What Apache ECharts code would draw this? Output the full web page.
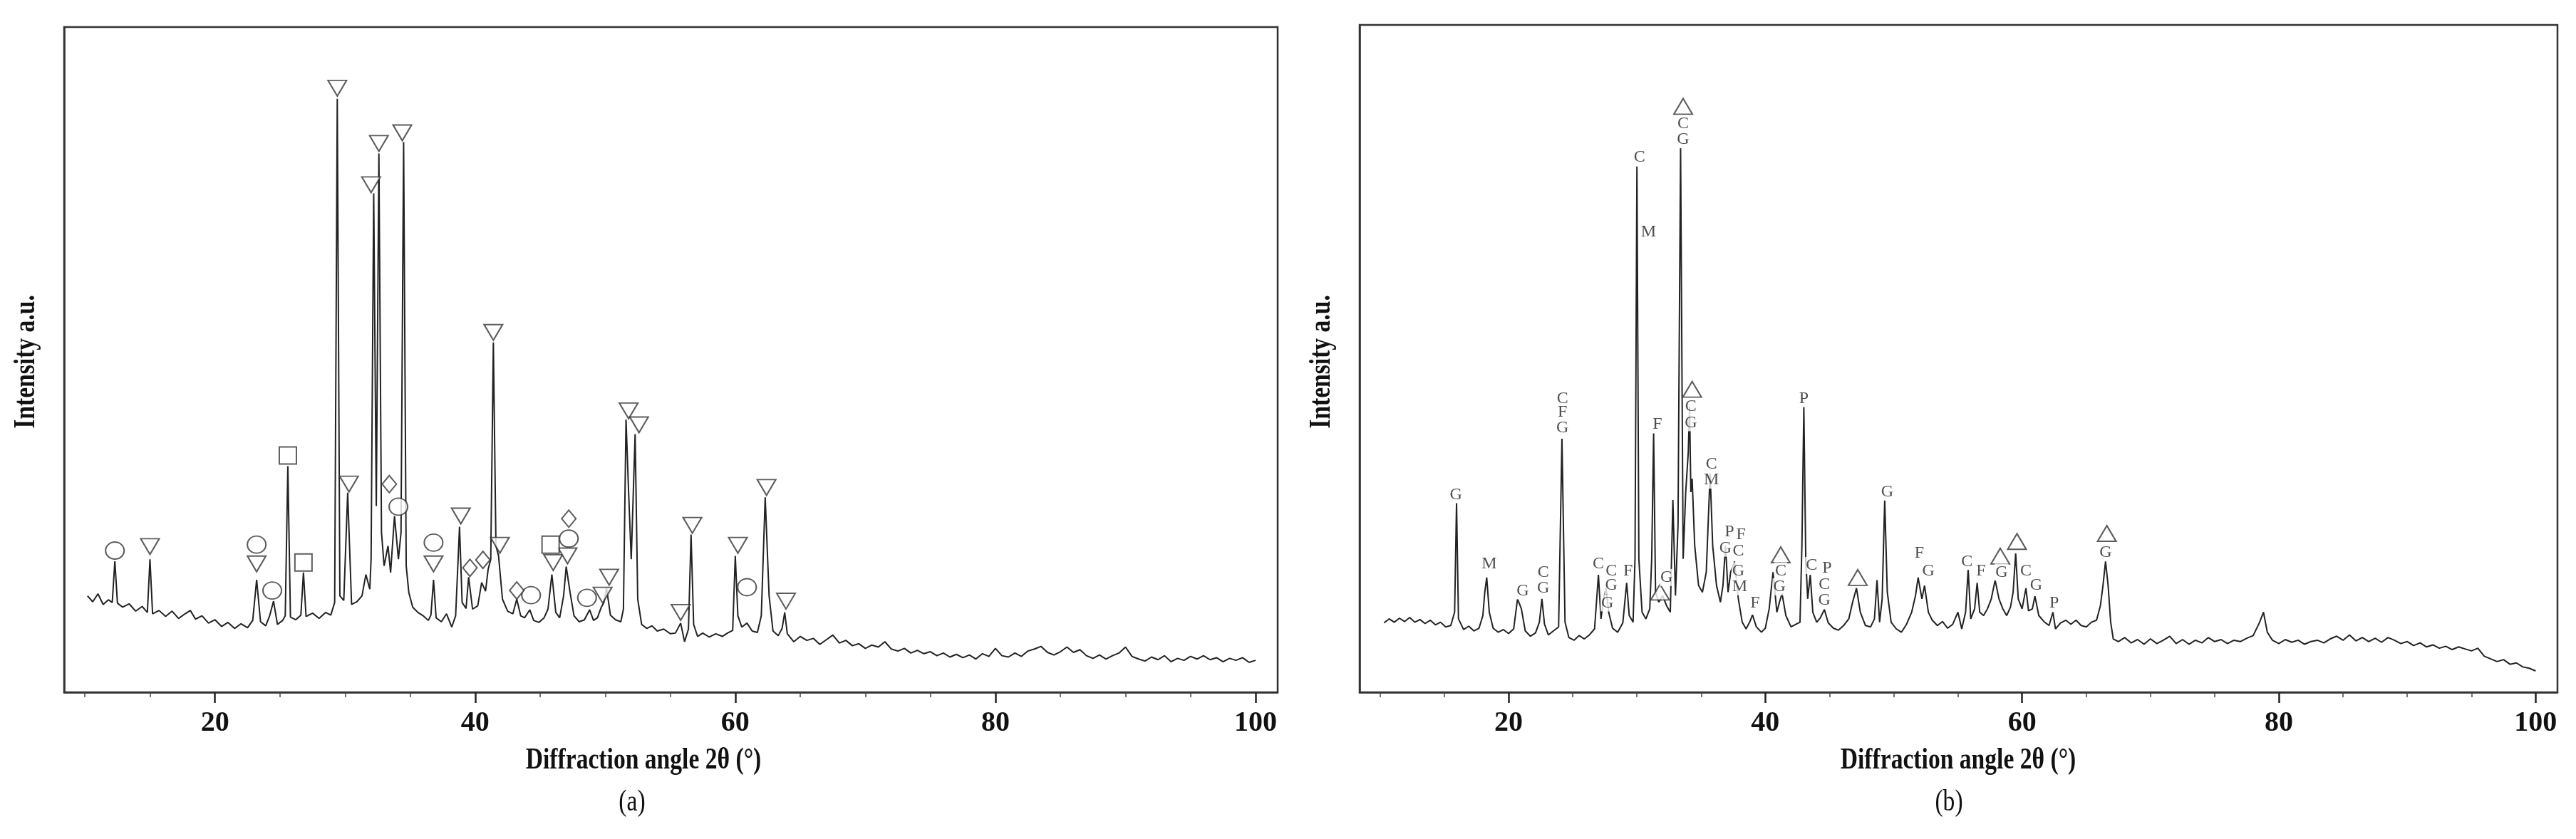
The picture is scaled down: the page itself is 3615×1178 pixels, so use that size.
<!DOCTYPE html>
<html><head><meta charset="utf-8">
<script src="https://cdn.jsdelivr.net/npm/echarts@6/dist/echarts.min.js"></script>
<style>html,body{margin:0;padding:0;background:#fff}#c{width:3615px;height:1178px}</style>
</head><body><div id="c"></div>
<script>
const xTicks=[20,40,60,80,100];
const traceA=[[10.2,14.5],[10.6,13.6],[11.0,14.8],[11.4,13.2],[11.8,13.9],[12.1,13.5],[12.3,19.7],[12.5,13.4],[12.9,12.8],[13.4,13.3],[13.9,12.2],[14.4,12.9],[14.8,12.0],[15.0,20.0],[15.2,11.8],[15.7,12.3],[16.2,11.4],[16.7,12.2],[17.2,11.1],[17.7,11.8],[18.1,12.3],[18.5,11.0],[19.0,11.5],[19.5,10.4],[20.0,10.9],[20.5,9.9],[21.0,10.5],[21.5,9.6],[22.0,10.3],[22.5,9.7],[22.9,10.8],[23.2,16.9],[23.5,10.6],[23.9,10.0],[24.2,11.5],[24.5,13.7],[24.8,10.2],[25.2,10.8],[25.4,11.5],[25.6,34.0],[25.8,11.3],[26.2,10.9],[26.6,11.6],[26.8,18.0],[27.0,11.4],[27.5,11.9],[28.0,11.1],[28.5,12.0],[28.9,11.6],[29.2,13.5],[29.4,89.2],[29.6,14.5],[29.9,13.8],[30.2,30.0],[30.5,13.2],[30.9,13.6],[31.3,14.5],[31.6,17.7],[31.9,15.5],[32.0,20],[32.2,75],[32.4,28],[32.6,81],[32.8,24],[33.0,19],[33.3,22],[33.5,18],[33.8,26.5],[34.1,20],[34.3,24],[34.5,82.7],[34.7,19],[34.9,15],[35.2,12.8],[35.6,12.0],[36.0,11.5],[36.4,10.8],[36.6,11.6],[36.8,16.9],[37.0,11.2],[37.4,10.6],[37.8,11.8],[38.2,9.8],[38.5,11.5],[38.8,24.9],[39.0,13.5],[39.3,12.6],[39.5,17.3],[39.8,12.5],[40.2,13.0],[40.5,16.5],[40.8,15.2],[41.0,18.5],[41.2,20],[41.4,52.6],[41.6,22],[41.8,20.5],[42.1,14.0],[42.5,12.2],[42.9,11.8],[43.2,14.0],[43.5,11.5],[43.8,11.2],[44.2,12.4],[44.5,10.8],[44.9,10.5],[45.3,11.2],[45.6,12.5],[45.9,17.7],[46.2,12.0],[46.5,11.2],[46.8,14.5],[47.0,18.9],[47.3,15.0],[47.6,11.5],[48.0,10.6],[48.4,10.9],[48.8,12.4],[49.1,10.8],[49.4,11.2],[49.7,12.8],[49.9,13.5],[50.1,15.7],[50.4,11.6],[50.8,10.9],[51.2,10.6],[51.4,12.5],[51.6,41],[51.8,30],[52.0,20],[52.3,38.8],[52.5,14],[52.8,10.2],[53.2,9.6],[53.6,10.0],[54.0,9.2],[54.5,9.5],[55.0,8.8],[55.4,8.9],[55.8,10.4],[56.1,7.6],[56.4,9.5],[56.6,23.7],[56.8,10.2],[57.1,8.4],[57.5,8.9],[58.0,8.3],[58.5,8.8],[59.0,8.4],[59.4,8.9],[59.8,9.3],[60.0,20.5],[60.2,11.5],[60.5,9.8],[60.9,10.4],[61.3,9.2],[61.7,9.0],[62.0,11.5],[62.3,29.3],[62.6,14.5],[62.9,9.2],[63.3,8.5],[63.6,9.6],[63.8,12.0],[64.0,8.8],[64.5,7.6],[65.0,8.4],[65.5,7.8],[66.0,8.1],[66.5,7.2],[67.0,7.9],[67.5,8.6],[68.0,7.4],[68.5,7.8],[69.0,7.0],[69.5,7.3],[70.0,6.6],[70.5,7.1],[71.0,6.8],[71.5,7.6],[72.0,6.5],[72.5,6.2],[73.0,6.6],[73.5,5.9],[74.0,6.3],[74.5,5.8],[75.0,6.1],[75.5,5.5],[76.0,5.9],[76.5,5.3],[77.0,5.7],[77.5,5.2],[78.0,5.6],[78.5,5.0],[79.0,5.8],[79.5,5.4],[80.0,6.6],[80.5,5.5],[81.0,5.3],[81.5,5.9],[82.0,5.4],[82.5,6.2],[83.0,6.5],[83.5,6.9],[84.0,6.0],[84.5,5.6],[85.0,6.1],[85.5,6.8],[86.0,6.0],[86.5,6.4],[87.0,5.5],[87.5,5.1],[88.0,5.6],[88.5,5.0],[89.0,5.5],[89.5,5.9],[90.0,6.8],[90.5,5.4],[91.0,5.0],[91.5,4.7],[92.0,5.3],[92.5,4.9],[93.0,5.5],[93.5,4.6],[94.0,5.1],[94.5,4.8],[95.0,5.4],[95.5,5.0],[96.0,5.5],[96.5,4.9],[97.0,5.2],[97.5,4.6],[98.0,5.1],[98.5,4.8],[99.0,5.2],[99.5,4.5],[100.0,4.8]];
const traceB=[[10.3,10.4],[10.7,11.0],[11.1,10.5],[11.5,11.1],[11.9,10.6],[12.3,11.2],[12.7,10.5],[13.1,10.9],[13.5,10.3],[13.9,10.8],[14.3,10.1],[14.7,10.5],[15.1,9.8],[15.5,10.0],[15.8,12],[15.95,28.4],[16.1,11.0],[16.5,9.4],[16.9,9.9],[17.3,9.2],[17.7,9.6],[18.0,11.5],[18.15,15.0],[18.3,17.2],[18.5,12.0],[18.8,9.6],[19.2,9.0],[19.6,9.4],[20.0,8.8],[20.4,9.5],[20.7,14.0],[21.0,12.5],[21.3,9.2],[21.7,8.4],[22.1,8.9],[22.4,10.5],[22.6,14.0],[22.8,10.2],[23.1,8.6],[23.5,9.2],[23.9,9.8],[24.16,38],[24.4,10.5],[24.7,8.2],[25.1,7.8],[25.5,8.5],[25.9,8.0],[26.3,8.6],[26.7,9.5],[27.0,17.6],[27.2,11.0],[27.4,14],[27.6,15.6],[27.8,12],[28.1,9.6],[28.5,9.0],[28.9,10.4],[29.2,16.4],[29.4,11.5],[29.7,10.5],[29.85,20],[30.0,78.8],[30.15,20],[30.4,12.0],[30.7,11.0],[31.0,12.5],[31.15,20],[31.3,38.8],[31.45,15],[31.7,13.5],[32.0,14.5],[32.3,13.0],[32.6,12.0],[32.8,28.8],[33.0,14.5],[33.2,25],[33.4,81.6],[33.6,20],[33.8,30],[34.0,36],[34.1,42.8],[34.2,30],[34.3,32],[34.5,22],[34.8,16],[35.1,15],[35.4,18],[35.7,32.8],[35.9,22],[36.2,16],[36.5,13.5],[36.7,16],[36.9,22],[37.1,15],[37.3,18],[37.6,19.6],[37.9,14],[38.2,10.5],[38.5,9.5],[38.8,10.6],[39.0,11.6],[39.3,9.8],[39.7,9.0],[40.0,9.6],[40.3,12.5],[40.6,18.0],[40.9,12.0],[41.1,13.5],[41.3,14.8],[41.6,11.5],[42.0,9.8],[42.4,10.2],[42.7,10.5],[42.85,22],[43.0,42.8],[43.15,20],[43.3,14],[43.5,17.6],[43.7,12.0],[44.0,10.5],[44.3,11.2],[44.6,12.4],[44.9,10.4],[45.3,9.6],[45.7,9.3],[46.1,10.0],[46.5,11.0],[46.8,13.5],[47.1,15.6],[47.4,12.0],[47.8,10.0],[48.2,9.8],[48.5,11.0],[48.7,16.8],[48.9,10.5],[49.1,14.0],[49.3,28.8],[49.5,15.0],[49.8,10.5],[50.2,9.5],[50.6,9.0],[51.0,10.2],[51.4,12.0],[51.7,14.5],[51.9,17.2],[52.2,14.0],[52.4,16.0],[52.7,12.0],[53.0,10.8],[53.4,10.0],[53.8,10.6],[54.2,9.6],[54.6,10.2],[55.0,12.0],[55.3,9.5],[55.6,12.0],[55.8,18.4],[56.0,11.0],[56.3,12.5],[56.5,16.4],[56.7,12.0],[57.0,11.5],[57.3,12.5],[57.6,14.0],[57.9,16.8],[58.2,14.0],[58.5,12.5],[58.8,11.5],[59.1,12.8],[59.3,15],[59.5,20.8],[59.7,14.0],[60.0,12.5],[60.3,15.6],[60.5,12.2],[60.8,12.5],[61.0,14.4],[61.3,11.5],[61.7,10.6],[62.1,10.0],[62.4,12.0],[62.6,9.5],[63.0,10.4],[63.4,10.8],[63.8,10.2],[64.2,10.8],[64.6,10.0],[65.0,9.8],[65.4,10.5],[65.8,10.8],[66.1,13.0],[66.3,16.0],[66.5,19.6],[66.7,16],[66.9,10.5],[67.1,8.0],[67.5,7.6],[68.0,8.2],[68.5,7.4],[69.0,7.9],[69.5,7.2],[70.0,8.0],[70.5,7.3],[71.0,7.8],[71.5,8.4],[72.0,7.3],[72.5,7.9],[73.0,7.2],[73.5,7.8],[74.0,7.4],[74.5,8.2],[75.0,7.6],[75.5,7.9],[76.0,7.3],[76.5,7.8],[77.0,7.6],[77.5,8.1],[78.0,8.5],[78.5,10.5],[78.8,12.0],[79.1,9.0],[79.5,7.8],[80.0,7.3],[80.5,7.9],[81.0,7.5],[81.5,7.8],[82.0,7.2],[82.5,7.6],[83.0,7.8],[83.5,7.4],[84.0,8.0],[84.5,8.4],[85.0,7.8],[85.5,8.6],[86.0,7.7],[86.5,8.2],[87.0,7.6],[87.5,8.1],[88.0,7.5],[88.5,8.2],[89.0,7.8],[89.5,7.3],[90.0,7.6],[90.5,7.0],[91.0,7.4],[91.5,6.8],[92.0,7.1],[92.5,6.6],[93.0,6.9],[93.5,6.4],[94.0,6.8],[94.5,6.5],[95.0,6.2],[95.5,6.6],[96.0,5.4],[96.5,5.0],[97.0,4.6],[97.5,4.9],[98.0,4.2],[98.5,4.4],[99.0,3.8],[99.5,3.6],[100.0,3.2]];
// panel (a) phase markers
const aDownTri=[[15.0,21.9],[23.2,19.3],[29.4,90.8],[30.3,31.3],[32.0,76.3],[32.6,82.5],[34.4,84.1],[36.8,19.3],[38.9,26.5],[41.4,54.1],[41.9,22.1],[46.0,19.5],[47.1,20.5],[49.8,14.6],[50.3,17.3],[51.8,42.3],[52.6,40.2],[55.8,12.0],[56.7,25.1],[60.2,22.1],[62.4,30.8],[63.9,13.7]];
const aCircle=[[12.3,21.3],[23.2,22.2],[24.4,15.3],[34.1,27.9],[36.8,22.5],[44.3,14.6],[47.2,23.1],[48.6,14.2],[60.9,15.8]];
const aSquare=[[25.6,35.6],[26.8,19.5],[45.8,22.2]];
const aDiamond=[[33.4,31.3],[39.6,18.7],[40.6,19.9],[43.2,15.3],[47.2,26.1]];
// panel (b) phase markers
const bUpTri=[[31.8,15.0],[33.6,87.8],[34.3,45.4],[41.2,20.6],[47.2,17.2],[58.3,20.4],[59.6,22.6],[66.6,23.8]];
const bLetters=[[15.9,29.6,'G'],[18.5,19.2,'M'],[21.1,15.2,'G'],[22.7,18,'C'],[22.7,15.6,'G'],[24.2,44,'C'],[24.2,42,'F'],[24.2,39.6,'G'],[27.0,19.2,'C'],[28.0,18.2,'C'],[28.0,16,'G'],[27.7,13.4,'G'],[29.3,18.2,'F'],[30.2,80.2,'C'],[30.9,69,'M'],[31.6,40.2,'F'],[32.3,17.2,'G'],[33.6,85.2,'C'],[33.6,82.8,'G'],[34.2,42.8,'C'],[34.2,40.4,'G'],[35.8,34.2,'C'],[35.8,31.8,'M'],[37.2,24,'P'],[36.9,21.6,'G'],[38.1,23.6,'F'],[37.9,21.2,'C'],[37.9,18.2,'G'],[38.0,15.8,'M'],[39.2,13.4,'F'],[41.2,18.2,'C'],[41.1,15.8,'G'],[43.0,44,'P'],[43.6,19,'C'],[44.8,18.6,'P'],[44.6,16.2,'C'],[44.6,13.8,'G'],[49.5,30,'G'],[52.0,20.8,'F'],[52.7,18.2,'G'],[55.7,19.6,'C'],[56.8,18.2,'F'],[58.4,18,'G'],[60.3,18.2,'C'],[61.1,16,'G'],[62.5,13.4,'P'],[66.5,21,'G']];

const FONT='Liberation Serif';
function xAx(i){return {type:'value',gridIndex:i,min:8.4,max:101.7,
  axisLine:{lineStyle:{color:'#333',width:2.5}},splitLine:{show:false},
  axisTick:{show:true,inside:false,length:7,customValues:[10,15,25,30,35,45,50,55,65,70,75,85,90,95],lineStyle:{color:'#444',width:1.5}},
  axisLabel:{customValues:xTicks,fontFamily:FONT,fontWeight:'bold',fontSize:40,color:'#111',margin:24}};}
function xMajor(i){return {type:'value',gridIndex:i,min:8.4,max:101.7,position:'bottom',
  axisLine:{show:false},splitLine:{show:false},axisLabel:{show:false},
  axisTick:{show:true,inside:false,length:15,customValues:xTicks,lineStyle:{color:'#222',width:2.5}}};}
function yAx(i){return {type:'value',gridIndex:i,min:0,max:100,axisLabel:{show:false},axisTick:{show:false},splitLine:{show:false},axisLine:{show:true,lineStyle:{color:'#333',width:2.5}}};}
const mk=(sym,data,i,rot,size)=>({type:'scatter',xAxisIndex:i,yAxisIndex:i,data:data,symbol:sym,symbolRotate:rot||0,symbolSize:size,
  itemStyle:{color:'#fff',borderColor:'#333',borderWidth:2},z:5,silent:true});
const txt=(x,y,s,bold,rot)=>({type:'text',x:x,y:y,rotation:rot||0,scaleX:0.8,
  style:{text:s,font:(bold?'bold ':'')+'42px "Liberation Serif"',fill:'#111',align:'center',verticalAlign:'middle'}});
const ch=echarts.init(document.getElementById('c'));
ch.setOption({animation:false,backgroundColor:'#fff',
 grid:[{left:90,right:1822,top:38,bottom:206,show:true,borderColor:'#333',borderWidth:2.5},
       {left:1908,right:26,top:35,bottom:206,show:true,borderColor:'#333',borderWidth:2.5}],
 xAxis:[xAx(0),xAx(1),xMajor(0),xMajor(1)],yAxis:[yAx(0),yAx(1)],
 graphic:[
  txt(903,1068,'Diffraction angle 2θ (°)',true),
  txt(887,1127,'(a)',false),
  txt(2748,1068,'Diffraction angle 2θ (°)',true),
  txt(2735,1127,'(b)',false),
  txt(37,508,'Intensity a.u.',true,Math.PI/2),
  txt(1855,508,'Intensity a.u.',true,Math.PI/2)
 ],
 series:[
  {type:'line',xAxisIndex:0,yAxisIndex:0,data:traceA,showSymbol:false,lineStyle:{color:'#222',width:2}},
  {type:'line',xAxisIndex:1,yAxisIndex:1,data:traceB,showSymbol:false,lineStyle:{color:'#222',width:2}},
  mk('triangle',aDownTri,0,180,[26,22]),
  mk('circle',aCircle,0,0,[26,24]),
  mk('rect',aSquare,0,0,[24,24]),
  mk('diamond',aDiamond,0,0,[20,24]),
  mk('triangle',bUpTri,1,0,[26,22]),
  {type:'scatter',xAxisIndex:1,yAxisIndex:1,data:bLetters,symbolSize:1,itemStyle:{color:'rgba(0,0,0,0)'},z:6,silent:true,
   label:{show:true,position:'inside',formatter:p=>p.value[2],fontFamily:FONT,fontSize:24,color:'#222',backgroundColor:'#fff',padding:[0,1]}}
 ]});
</script></body></html>
